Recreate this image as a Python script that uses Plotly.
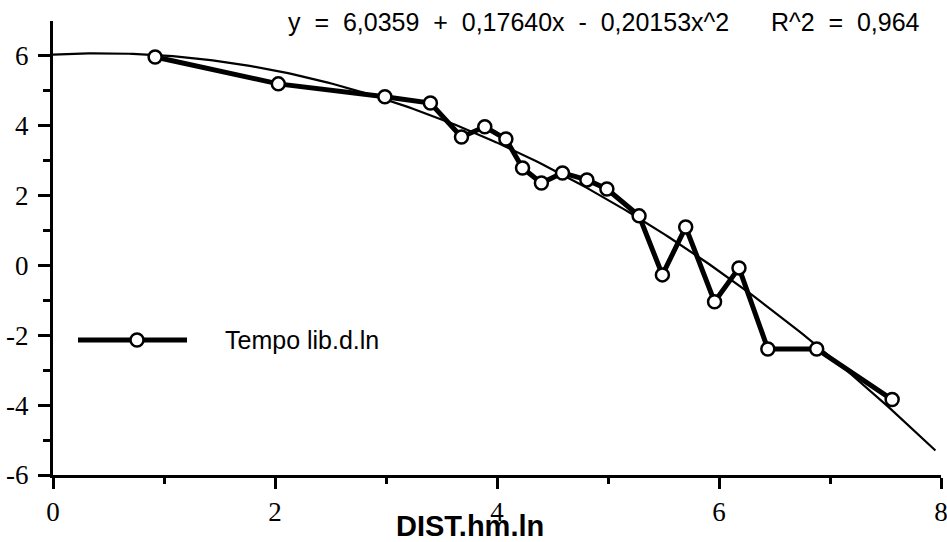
import numpy as np
import plotly.graph_objects as go

# Data
dist_ln = [0.92, 2.03, 2.99, 3.40, 3.68, 3.89, 4.08, 4.23, 4.40, 4.59, 4.81, 4.99,
           5.28, 5.49, 5.70, 5.96, 6.18, 6.44, 6.88, 7.56]
tempo_ln = [5.97, 5.20, 4.83, 4.65, 3.68, 3.97, 3.62, 2.79, 2.36, 2.65, 2.45, 2.19,
            1.42, -0.27, 1.10, -1.04, -0.07, -2.39, -2.39, -3.84]

# Quadratic fit shown in the chart: y = a + b x + c x^2
fit_coefs = [6.0359, 0.17640, -0.20153]
fit_range = [0.0, 7.95]

x_ticks = [0, 2, 4, 6, 8]
x_tick_labels = ["0", "2", "4", "6", "8"]
x_minor = [1, 3, 5, 7]
y_ticks = [-6, -4, -2, 0, 2, 4, 6]
y_tick_labels = ["-6", "-4", "-2", "0", "2", "4", "6"]
y_minor = [-5, -3, -1, 1, 3, 5]

equation_text = "y  =  6,0359  +  0,17640x  -  0,20153x^2      R^2  =  0,964"
legend_name = "Tempo lib.d.ln"
x_title = "DIST.hm.ln"

W, H = 947, 542
L, R, T, B = 53, 6, 21, 67

xf = np.linspace(fit_range[0], fit_range[1], 200)
yf = fit_coefs[0] + fit_coefs[1] * xf + fit_coefs[2] * xf ** 2

fig = go.Figure()
fig.add_trace(go.Scatter(x=xf, y=yf, mode="lines",
                         line=dict(color="black", width=2.2), showlegend=False,
                         hoverinfo="skip"))
fig.add_trace(go.Scatter(x=dist_ln, y=tempo_ln, mode="lines+markers", name=legend_name,
                         line=dict(color="black", width=5),
                         marker=dict(size=13, color="white",
                                     line=dict(color="black", width=2.5)),
                         showlegend=False))

serif = "Liberation Serif, Times New Roman, Times, serif"
sans = "Liberation Sans, Arial, Helvetica, sans-serif"

fig.update_xaxes(range=[0, 8], tickmode="array", tickvals=x_ticks, ticktext=x_tick_labels,
                 showgrid=False, zeroline=False, automargin=False,
                 showline=True, linecolor="black", linewidth=3,
                 ticks="outside", ticklen=11, tickwidth=3, tickcolor="black",
                 ticklabelstandoff=0, ticklabeloverflow="allow",
                 minor=dict(tickvals=x_minor, ticks="outside", ticklen=6, tickwidth=3,
                            tickcolor="black", showgrid=False),
                 tickfont=dict(family=serif, size=27, color="black"))
fig.update_yaxes(range=[-6, 7], tickmode="array", tickvals=y_ticks, ticktext=y_tick_labels,
                 showgrid=False, zeroline=False, automargin=False,
                 showline=True, linecolor="black", linewidth=3,
                 ticks="outside", ticklen=12, tickwidth=3, tickcolor="black",
                 ticklabelstandoff=4, ticklabeloverflow="allow",
                 minor=dict(tickvals=y_minor, ticks="outside", ticklen=7, tickwidth=3,
                            tickcolor="black", showgrid=False),
                 tickfont=dict(family=serif, size=27, color="black"))

pw = W - L - R
ph = H - T - B
def px_x(p):
    return (p - L) / pw
def px_y(p):
    return (H - B - p) / ph

# Manual legend
ly = px_y(340)
fig.add_shape(type="line", xref="paper", yref="paper", x0=px_x(78), x1=px_x(187),
              y0=ly, y1=ly, line=dict(color="black", width=5))
fig.add_shape(type="circle", xref="paper", yref="paper", xsizemode="pixel",
              ysizemode="pixel", xanchor=px_x(137), yanchor=ly, x0=-6.5, x1=6.5,
              y0=-6.5, y1=6.5, fillcolor="white", line=dict(color="black", width=2.5))
fig.add_annotation(xref="paper", yref="paper", x=px_x(223), y=ly, xanchor="left",
                   yanchor="middle", text=legend_name, showarrow=False,
                   font=dict(family=sans, size=25, color="black"))

fig.add_annotation(xref="paper", yref="paper", x=px_x(922), y=px_y(22), xanchor="right",
                   yanchor="middle", text=equation_text, showarrow=False,
                   font=dict(family=sans, size=25, color="black"))

fig.add_annotation(xref="paper", yref="paper", x=px_x(470), y=px_y(526), xanchor="center",
                   yanchor="middle", text="<b>" + x_title + "</b>", showarrow=False,
                   font=dict(family=sans, size=29, color="black"))

fig.update_layout(width=W, height=H, margin=dict(l=L, r=R, t=T, b=B),
                  plot_bgcolor="white", paper_bgcolor="white", showlegend=False)

fig.write_html("out.html", config={"displayModeBar": False},
               post_script="document.body.style.margin='0';document.body.style.padding='0';")
